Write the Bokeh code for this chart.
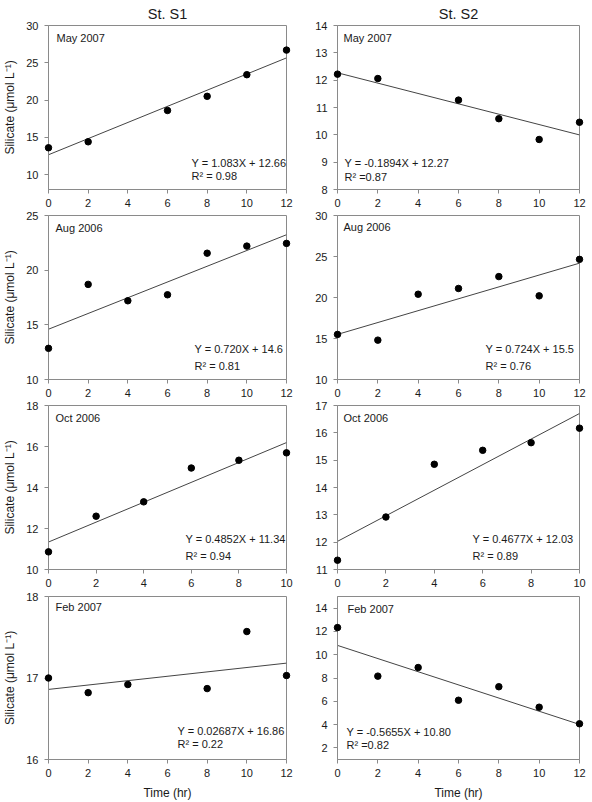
from bokeh.plotting import figure
from bokeh.layouts import column, row
from bokeh.models import Label, FixedTicker, Range1d
from bokeh.embed import file_html
from bokeh.resources import INLINE

# ---------------- data ----------------
stations = ["St. S1", "St. S2"]
months = ["May 2007", "Aug 2006", "Oct 2006", "Feb 2007"]

s1_may_x = [0, 2, 6, 8, 10, 12]
s1_may_y = [13.6, 14.4, 18.6, 20.5, 23.4, 26.7]
s2_may_x = [0, 2, 6, 8, 10, 12]
s2_may_y = [12.22, 12.06, 11.27, 10.59, 9.83, 10.46]

s1_aug_x = [0, 2, 4, 6, 8, 10, 12]
s1_aug_y = [12.85, 18.7, 17.2, 17.75, 21.55, 22.2, 22.45]
s2_aug_x = [0, 2, 4, 6, 8, 10, 12]
s2_aug_y = [15.5, 14.8, 20.4, 21.1, 22.55, 20.2, 24.65]

s1_oct_x = [0, 2, 4, 6, 8, 10]
s1_oct_y = [10.86, 12.6, 13.3, 14.95, 15.33, 15.69]
s2_oct_x = [0, 2, 4, 6, 8, 10]
s2_oct_y = [11.34, 12.92, 14.85, 15.36, 15.64, 16.17]

s1_feb_x = [0, 2, 4, 8, 10, 12]
s1_feb_y = [17.0, 16.82, 16.92, 16.87, 17.57, 17.03]
s2_feb_x = [0, 2, 4, 6, 8, 10, 12]
s2_feb_y = [12.33, 8.16, 8.9, 6.09, 7.25, 5.49, 4.07]

# regression fits (slope, intercept) as printed on the chart
s1_slopes = [1.083, 0.720, 0.4852, 0.02687]
s1_intercepts = [12.66, 14.6, 11.34, 16.86]
s2_slopes = [-0.1894, 0.724, 0.4677, -0.5655]
s2_intercepts = [12.27, 15.5, 12.03, 10.80]

s1_eq = ["Y = 1.083X + 12.66", "Y = 0.720X + 14.6", "Y = 0.4852X + 11.34", "Y = 0.02687X + 16.86"]
s1_r2 = ["R\u00b2 = 0.98", "R\u00b2 = 0.81", "R\u00b2 = 0.94", "R\u00b2 = 0.22"]
s2_eq = ["Y = -0.1894X + 12.27", "Y = 0.724X + 15.5", "Y = 0.4677X + 12.03", "Y = -0.5655X + 10.80"]
s2_r2 = ["R\u00b2 =0.87", "R\u00b2 = 0.76", "R\u00b2 = 0.89", "R\u00b2 =0.82"]

# axis limits and ticks
s1_ylim = [(8, 30), (10, 25), (10, 18), (16, 18)]
s2_ylim = [(8, 14), (10, 30), (11, 17), (1, 15)]
s1_yticks = [[10, 15, 20, 25, 30], [10, 15, 20, 25], [10, 12, 14, 16, 18], [16, 17, 18]]
s2_yticks = [[8, 9, 10, 11, 12, 13, 14], [10, 15, 20, 25, 30], [11, 12, 13, 14, 15, 16, 17],
             [2, 4, 6, 8, 10, 12, 14]]
xlim = [(0, 12), (0, 12), (0, 10), (0, 12)]
xticks = [[0, 2, 4, 6, 8, 10, 12], [0, 2, 4, 6, 8, 10, 12], [0, 2, 4, 6, 8, 10], [0, 2, 4, 6, 8, 10, 12]]

s1_x = [s1_may_x, s1_aug_x, s1_oct_x, s1_feb_x]
s1_y = [s1_may_y, s1_aug_y, s1_oct_y, s1_feb_y]
s2_x = [s2_may_x, s2_aug_x, s2_oct_x, s2_feb_x]
s2_y = [s2_may_y, s2_aug_y, s2_oct_y, s2_feb_y]

# ---------------- layout / style ----------------
FONT = "Liberation Sans"
FRAME = "#8a8a8a"
TXT = "#1a1a1a"

# per row: (top border, frame height, bottom border)
row_geom = [(24, 165, 21), (5, 164, 21), (5, 164, 22), (5, 164, 42)]
# per column: (width, left border, right border)
col_geom = [(296, 43, 10), (296, 41, 13)]
# equation label offsets within frame (x from left, y of eq line and r2 line from bottom)
eq_pos = [
    [(143, 27, 14), (146, 31, 14), (137, 31, 14), (129, 29, 16)],
    [(7, 27, 13), (148, 31, 14), (135, 31, 14), (9, 28, 15)],
]
month_pos = [
    [(8, 13), (7, 12), (7, 12), (7, 11)],
    [(6, 13), (6, 11), (6, 12), (10, 13)],
]


def make_panel(ci, ri):
    w, bl, br = col_geom[ci]
    bt, fh, bb = row_geom[ri]
    ylim = (s1_ylim if ci == 0 else s2_ylim)[ri]
    yt = (s1_yticks if ci == 0 else s2_yticks)[ri]
    xs = (s1_x if ci == 0 else s2_x)[ri]
    ys = (s1_y if ci == 0 else s2_y)[ri]
    slope = (s1_slopes if ci == 0 else s2_slopes)[ri]
    icpt = (s1_intercepts if ci == 0 else s2_intercepts)[ri]
    eq = (s1_eq if ci == 0 else s2_eq)[ri]
    r2 = (s1_r2 if ci == 0 else s2_r2)[ri]

    p = figure(width=w, height=bt + fh + bb, output_backend="svg", toolbar_location=None,
               x_range=Range1d(*xlim[ri]), y_range=Range1d(*ylim),
               min_border_left=bl, min_border_right=br, min_border_top=bt, min_border_bottom=bb,
               background_fill_color="white", border_fill_color="white")
    p.grid.visible = False
    p.outline_line_color = FRAME
    p.outline_line_width = 1

    for ax in (p.xaxis[0], p.yaxis[0]):
        ax.axis_line_color = FRAME
        ax.major_tick_line_color = FRAME
        ax.minor_tick_line_color = None
        ax.major_tick_in = 0
        ax.major_tick_out = 4
        ax.major_label_text_font = FONT
        ax.major_label_text_font_size = "11px"
        ax.major_label_text_color = TXT
        ax.axis_label_text_font = FONT
        ax.axis_label_text_font_size = "12px"
        ax.axis_label_text_font_style = "normal"
        ax.axis_label_text_color = TXT
    p.xaxis[0].ticker = FixedTicker(ticks=xticks[ri])
    p.yaxis[0].ticker = FixedTicker(ticks=yt)
    p.xaxis[0].major_label_standoff = 5
    p.yaxis[0].major_label_standoff = 6

    if ci == 0:
        p.yaxis[0].axis_label = "Silicate (\u03bcmol L\u207b\u00b9)"
        p.yaxis[0].axis_label_standoff = 6
    if ri == 3:
        p.xaxis[0].axis_label = "Time (hr)"
        p.xaxis[0].axis_label_standoff = 6

    if ri == 0:
        p.title.text = stations[ci]
        p.title.align = "center"
        p.title.text_font = FONT
        p.title.text_font_size = "14.5px"
        p.title.text_font_style = "normal"
        p.title.text_color = TXT
        p.title.standoff = 7

    x0, x1 = xlim[ri]
    p.line([x0, x1], [slope * x0 + icpt, slope * x1 + icpt], line_color="#444444", line_width=1)
    p.scatter(xs, ys, size=6.5, color="black", level="overlay")

    mx, my = month_pos[ci][ri]
    p.add_layout(Label(x=mx, y=fh - my, x_units="screen", y_units="screen", text=months[ri],
                       text_font=FONT, text_font_size="11px", text_color=TXT,
                       text_baseline="middle", text_align="left"))
    ex, ey, ry = eq_pos[ci][ri]
    p.add_layout(Label(x=ex, y=ey, x_units="screen", y_units="screen", text=eq,
                       text_font=FONT, text_font_size="11px", text_color=TXT,
                       text_baseline="middle", text_align="left"))
    p.add_layout(Label(x=ex, y=ry, x_units="screen", y_units="screen", text=r2,
                       text_font=FONT, text_font_size="11px", text_color=TXT,
                       text_baseline="middle", text_align="left"))
    return p


rows = []
for ri in range(4):
    rows.append(row(make_panel(0, ri), make_panel(1, ri), spacing=0))
layout = column(*rows, spacing=0)

open("out.html", "w").write(file_html(layout, INLINE))
